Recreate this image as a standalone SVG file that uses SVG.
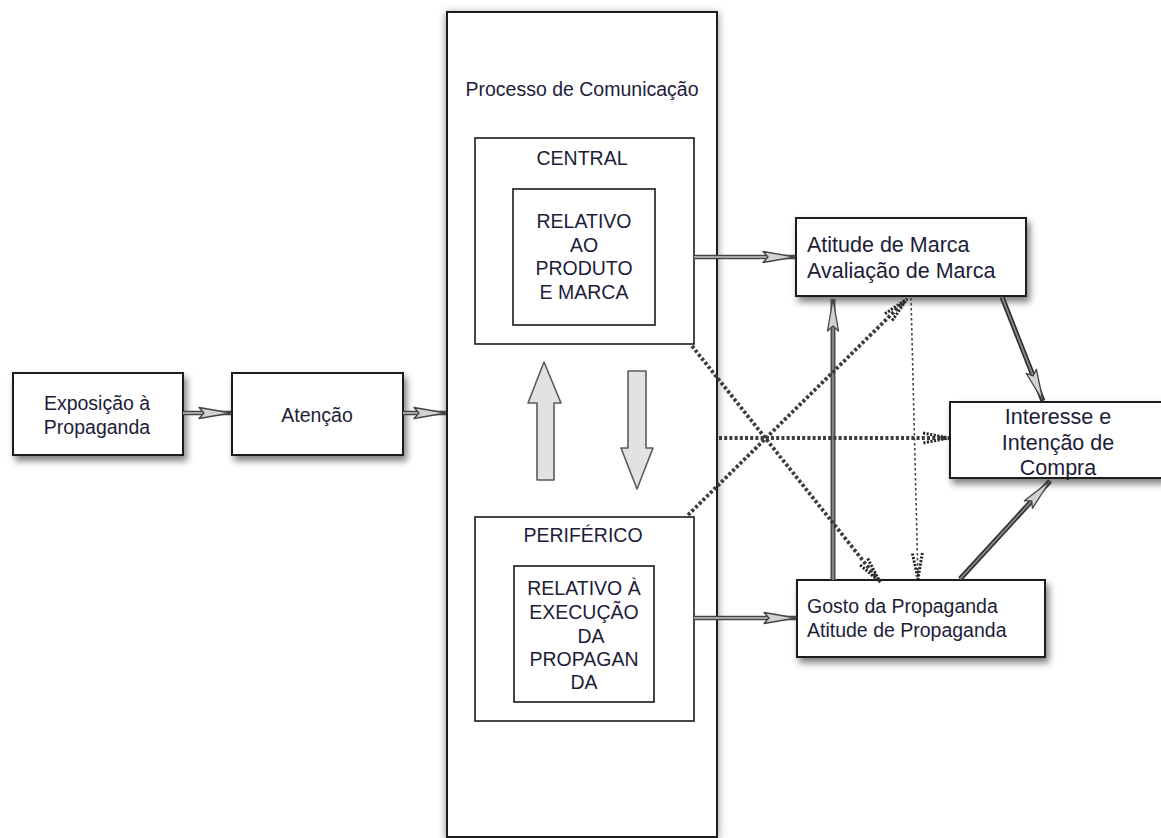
<svg xmlns="http://www.w3.org/2000/svg" width="1161" height="838" viewBox="0 0 1161 838">
<style>
  .box{fill:#fff;stroke:#1a1a1a;stroke-width:2}
  .inner{fill:#fff;stroke:#1a1a1a;stroke-width:1.6}
  .t{font-family:"Liberation Sans",Arial,sans-serif;font-size:19.5px;fill:#1d1d38}
  .tl{font-family:"Liberation Sans",Arial,sans-serif;font-size:21.5px;fill:#1d1d38}
  .c{text-anchor:middle}
  .dOut{stroke:#444;stroke-width:4.5;fill:none}
  .dIn{stroke:#c4c4c4;stroke-width:1.6;fill:none}
  .kOut{stroke:#2e2e2e;stroke-width:5;fill:none}
  .kIn{stroke:#8a8a8a;stroke-width:1.8;fill:none}
  .hatch{stroke:#3c3c3c;stroke-width:3.8;stroke-dasharray:3 2.2;fill:none}
  .dot{stroke:#444;stroke-width:1.6;stroke-dasharray:2.5 2.5;fill:none}
  .fat{fill:#e2e2e2;stroke:#5a5a5a;stroke-width:1.6;stroke-linejoin:round}
</style>
<defs>
  <filter id="sh" x="-20%" y="-20%" width="150%" height="160%">
    <feDropShadow dx="3" dy="5" stdDeviation="3.5" flood-color="#000" flood-opacity="0.5"/>
  </filter>
  <filter id="shBig" x="-10%" y="-5%" width="120%" height="110%">
    <feDropShadow dx="0" dy="2" stdDeviation="4" flood-color="#000" flood-opacity="0.45"/>
  </filter>
  <marker id="hollow" markerUnits="userSpaceOnUse" markerWidth="36" markerHeight="16" refX="33" refY="7" orient="auto">
    <path d="M1,1.5 L33,7 L1,12.5 L6,7 z" fill="#d2d2d2" stroke="#444" stroke-width="1.3" stroke-linejoin="round"/>
  </marker>
  <marker id="hatchHead" markerUnits="userSpaceOnUse" markerWidth="30" markerHeight="16" refX="27" refY="7" orient="auto">
    <path d="M1,2 L27,7 L1,12" fill="none" stroke="#2a2a2a" stroke-width="3" stroke-dasharray="2.2 1.4"/>
  </marker>
</defs>

<g id="node-processo">
  <rect class="box" x="447" y="12" width="270" height="825" filter="url(#shBig)"/>
  <text class="t c" x="582" y="96">Processo de Comunicação</text>
</g>

<g id="node-exposicao">
  <rect class="box" x="13" y="373" width="170" height="82" filter="url(#sh)"/>
  <text class="t c" x="97" y="410">Exposição à</text>
  <text class="t c" x="97" y="434">Propaganda</text>
</g>

<g id="node-atencao">
  <rect class="box" x="232" y="373" width="171" height="82" filter="url(#sh)"/>
  <text class="t c" x="317" y="422">Atenção</text>
</g>

<g id="node-central">
  <rect class="inner" x="475" y="138" width="219" height="206"/>
  <text class="t c" x="582" y="165">CENTRAL</text>
</g>
<g id="node-relativo-produto">
  <rect class="inner" x="513" y="189" width="142" height="136"/>
  <text class="t c" x="584" y="228">RELATIVO</text>
  <text class="t c" x="584" y="252">AO</text>
  <text class="t c" x="584" y="275">PRODUTO</text>
  <text class="t c" x="584" y="299">E MARCA</text>
</g>

<g id="node-periferico">
  <rect class="inner" x="475" y="517" width="219" height="204"/>
  <text class="t c" x="583" y="542">PERIFÉRICO</text>
</g>
<g id="node-relativo-execucao">
  <rect class="inner" x="514" y="566" width="140" height="136"/>
  <text class="t c" x="584" y="595">RELATIVO À</text>
  <text class="t c" x="584" y="619">EXECUÇÃO</text>
  <text class="t c" x="591" y="643">DA</text>
  <text class="t c" x="584" y="666">PROPAGAN</text>
  <text class="t c" x="584" y="689">DA</text>
</g>

<g id="node-seta-cima">
  <path class="fat" d="M544,362 L561,403 L554,403 L554,480 L537,480 L537,403 L528,403 Z"/>
</g>
<g id="node-seta-baixo">
  <path class="fat" d="M628,371 L646,371 L646,448 L653,448 L637,489 L621,448 L628,448 Z"/>
</g>

<g id="node-atitude-marca">
  <rect class="box" x="796" y="218" width="230" height="78" filter="url(#sh)"/>
  <text class="tl" x="807" y="252">Atitude de Marca</text>
  <text class="tl" x="807" y="278">Avaliação de Marca</text>
</g>

<g id="node-interesse">
  <rect class="box" x="950" y="402" width="212" height="76" filter="url(#sh)"/>
  <text class="tl c" x="1058" y="424">Interesse e</text>
  <text class="tl c" x="1058" y="450">Intenção de</text>
  <text class="tl c" x="1058" y="475">Compra</text>
</g>

<g id="node-gosto">
  <rect class="box" x="797" y="580" width="248" height="77" filter="url(#sh)"/>
  <text class="t" x="807" y="613">Gosto da Propaganda</text>
  <text class="t" x="807" y="637">Atitude de Propaganda</text>
</g>

<g id="connectors">
  <line class="dOut" x1="183" y1="413" x2="231" y2="413"/>
  <line class="dIn" x1="183" y1="413" x2="231" y2="413" marker-end="url(#hollow)"/>
  <line class="dOut" x1="403" y1="413" x2="446" y2="413"/>
  <line class="dIn" x1="403" y1="413" x2="446" y2="413" marker-end="url(#hollow)"/>
  <line class="dOut" x1="694" y1="257" x2="795" y2="257"/>
  <line class="dIn" x1="694" y1="257" x2="795" y2="257" marker-end="url(#hollow)"/>
  <line class="dOut" x1="694" y1="618" x2="796" y2="618"/>
  <line class="dIn" x1="694" y1="618" x2="796" y2="618" marker-end="url(#hollow)"/>
  <line class="kOut" x1="833" y1="580" x2="833" y2="299" style="stroke:#4a4a4a"/>
  <line class="kIn" x1="833" y1="580" x2="833" y2="299" marker-end="url(#hollow)"/>
  <line class="kOut" x1="1002" y1="297" x2="1043" y2="401"/>
  <line class="kIn" x1="1002" y1="297" x2="1043" y2="401" marker-end="url(#hollow)"/>
  <line class="kOut" x1="960" y1="579" x2="1050" y2="481"/>
  <line class="kIn" x1="960" y1="579" x2="1050" y2="481" marker-end="url(#hollow)"/>
  <line class="hatch" x1="692" y1="346" x2="880" y2="582" marker-end="url(#hatchHead)"/>
  <line class="hatch" x1="688" y1="515" x2="907" y2="299" marker-end="url(#hatchHead)"/>
  <line class="hatch" x1="719" y1="438" x2="949" y2="438" marker-end="url(#hatchHead)"/>
  <line class="dot" x1="911" y1="298" x2="918" y2="579" marker-end="url(#hatchHead)"/>
</g>
</svg>
